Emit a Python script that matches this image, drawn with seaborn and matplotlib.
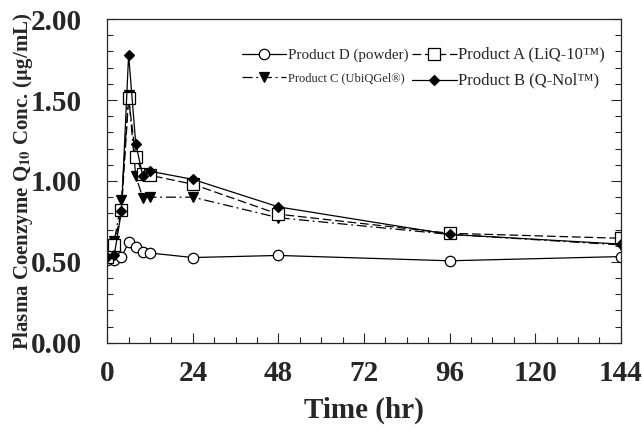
import matplotlib
matplotlib.use("Agg")
import matplotlib.pyplot as plt
import seaborn as sns
import pandas as pd
from matplotlib.ticker import MultipleLocator

time_hr = [0, 2, 4, 6, 8, 10, 12, 24, 48, 96, 144]
product_d = [0.51, 0.51, 0.53, 0.62, 0.59, 0.56, 0.555, 0.527, 0.54, 0.507, 0.533]
product_a = [0.53, 0.605, 0.82, 1.51, 1.15, 1.045, 1.035, 0.98, 0.795, 0.677, 0.646]
product_c = [0.535, 0.63, 0.88, 1.53, 1.03, 0.896, 0.90, 0.90, 0.773, 0.67, 0.605]
product_b = [0.53, 0.545, 0.815, 1.78, 1.23, 1.03, 1.06, 1.01, 0.84, 0.67, 0.61]

labels = ["Product D (powder)", "Product C (UbiQGel\u00ae)",
          "Product A (LiQ-10\u2122)", "Product B (Q-Nol\u2122)"]
y_ticks = [0, 0.5, 1.0, 1.5, 2.0]

sns.set_style("ticks")
plt.rcParams["font.family"] = ["Liberation Serif", "DejaVu Serif"]
plt.rcParams["mathtext.fontset"] = "stix"

fig = plt.figure(figsize=(6.42, 4.34), dpi=100)
ax = fig.add_axes([0.167, 0.210, 0.800, 0.746])

series = [
    (product_d, labels[0], "o", "white", "-", 7.5),
    (product_c, labels[1], "v", "black", (0, (8, 3, 1.5, 3)), 7),
    (product_a, labels[2], "s", "white", (0, (7, 3)), 8),
    (product_b, labels[3], "D", "black", "-", 5),
]
for vals, lab, mk, fc, ls, ms in series:
    df = pd.DataFrame({"t": time_hr, "c": vals})
    sns.lineplot(data=df, x="t", y="c", ax=ax, color="black", linewidth=0.9,
                 linestyle=ls, marker=mk, markersize=ms, markerfacecolor=fc,
                 markeredgecolor="black", markeredgewidth=0.9, label=lab)

ax.set_xlim(0, 144)
ax.set_ylim(0, 2.0)
ax.xaxis.set_major_locator(MultipleLocator(24))
ax.xaxis.set_minor_locator(MultipleLocator(6))
ax.yaxis.set_minor_locator(MultipleLocator(0.1))
ax.set_yticks(y_ticks)
ax.set_yticklabels([f"{v:.2f}" for v in y_ticks])
ax.tick_params(axis="both", which="both", direction="in", top=False, right=True,
               width=0.8, labelsize=21)
ax.tick_params(axis="y", which="major", length=7, pad=18)
ax.tick_params(axis="x", which="major", length=7, pad=12)
ax.tick_params(axis="both", which="minor", length=4)
for lab in ax.get_xticklabels() + ax.get_yticklabels():
    lab.set_fontweight("bold")
for sp in ax.spines.values():
    sp.set_linewidth(0.9)
    sp.set_visible(True)

ax.set_xlabel("Time (hr)", fontsize=21, fontweight="bold", labelpad=7)
ax.set_ylabel(r"Plasma Coenzyme Q$_{\mathbf{10}}$ Conc. ($\mathbf{\mu}$g/mL)",
              fontsize=15, fontweight="bold", labelpad=-3)

handles, hl = ax.get_legend_handles_labels()
leg = ax.legend(handles, hl, ncol=2, loc="upper right", bbox_to_anchor=(0.985, 0.94),
                frameon=False, handlelength=3.2, columnspacing=0.3,
                handletextpad=0.1, labelspacing=0.7, borderaxespad=0.2)
sizes = [10.8, 9, 12, 12]
for txt, s in zip(leg.get_texts(), sizes):
    txt.set_fontsize(s)

fig.savefig("out.png", dpi=100)
